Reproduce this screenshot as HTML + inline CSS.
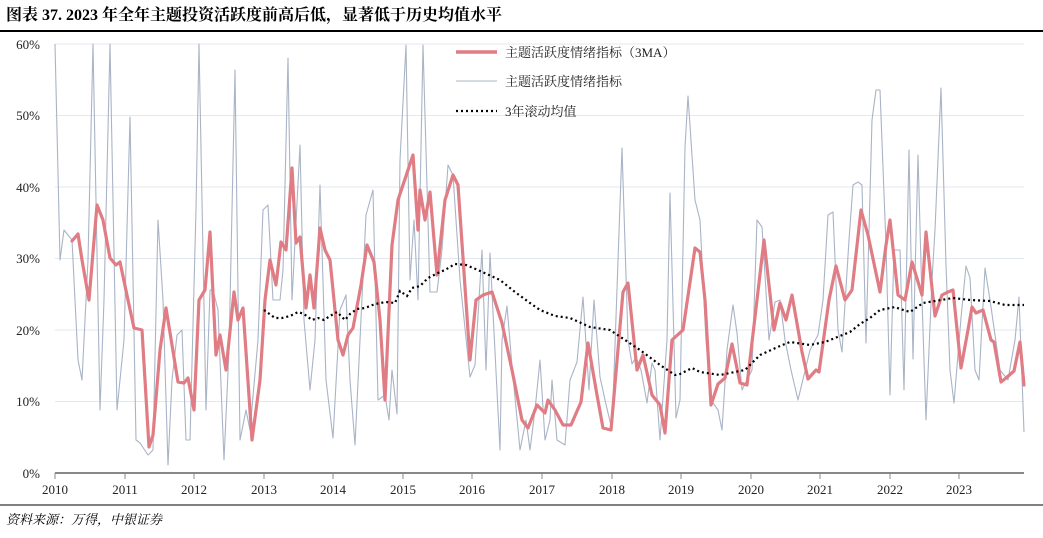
<!DOCTYPE html>
<html><head><meta charset="utf-8"><style>
body{margin:0;width:1043px;height:533px;background:#fff;overflow:hidden;font-family:"Liberation Serif","Noto Serif CJK SC",serif;}
</style></head><body>
<svg width="1043" height="533" viewBox="0 0 1043 533" xmlns="http://www.w3.org/2000/svg">
<text x="6" y="20" font-size="16" font-weight="bold" font-family="Liberation Serif,Noto Serif CJK SC,serif">图表 37. 2023 年全年主题投资活跃度前高后低，显著低于历史均值水平</text>
<line x1="0" y1="31" x2="1043" y2="31" stroke="#000" stroke-width="2"/>
<g stroke="#e3e7ef" stroke-width="1">
<line x1="55" y1="44" x2="1024" y2="44"/><line x1="55" y1="115.5" x2="1024" y2="115.5"/><line x1="55" y1="187" x2="1024" y2="187"/><line x1="55" y1="258.5" x2="1024" y2="258.5"/><line x1="55" y1="330" x2="1024" y2="330"/><line x1="55" y1="401.5" x2="1024" y2="401.5"/>
</g>
<g font-size="13" text-anchor="end" fill="#222">
<text x="40" y="49">60%</text><text x="40" y="120">50%</text><text x="40" y="192">40%</text><text x="40" y="263">30%</text><text x="40" y="335">20%</text><text x="40" y="406">10%</text><text x="40" y="478">0%</text>
</g>
<polyline fill="none" stroke="#a9b4c6" stroke-width="1.1" stroke-linejoin="round" points="55,44 60,260 64,230 68,235 72,240 78,360 82,380 88,260 93,44 100,410 104,300 110,44 117,410 124,340 130,117 136,440 140,443 148,455 153,450 158,220 163,300 168,465 172,380 177,335 182,330 186,440 190,440 196,210 199,44 206,410 210,290 213,290 218,310 224,460 229,350 235,70 240,440 246,410 250,430 258,340 263,210 268,205 273,300 280,300 283,270 288,58 292,300 300,145 304,320 310,390 315,340 320,185 326,380 333,438 340,310 346,295 350,380 355,445 362,298 366,215 373,190 378,400 385,395 389,420 392,370 397,414 400,160 406,45 410,280 414,220 418,300 423,45 430,292 437,292 442,250 448,165 453,175 460,280 470,377 475,365 482,250 486,370 490,253 500,450 502,340 507,306 512,366 520,450 526,420 530,450 535,410 540,360 545,440 550,420 552,380 557,440 565,445 570,380 577,362 583,297 589,390 594,300 600,377 605,400 612,430 622,148 628,340 632,364 636,357 641,370 647,403 652,363 655,370 660,440 667,340 670,193 676,418 680,400 685,147 688,96 695,200 700,220 706,340 711,400 718,410 722,430 727,350 733,305 737,333 742,390 748,378 752,370 757,220 762,227 769,340 775,302 780,300 785,340 791,370 798,400 804,375 810,350 818,335 823,300 828,215 833,212 838,330 842,352 849,240 853,185 858,182 862,185 866,343 872,120 876,90 880,90 886,245 890,395 894,250 900,250 904,390 909,150 913,359 918,155 922,300 926,420 932,280 935,230 941,88 946,265 950,370 954,403 961,318 966,266 970,278 975,370 979,380 985,268 990,300 1000,370 1008,380 1015,340 1019,297 1024,432"/>
<polyline fill="none" stroke="#e07c84" stroke-width="3.2" stroke-linejoin="round" stroke-linecap="round" points="72,241 78,234 82,260 89,300 97,205 103,220 110,258 116,265 120,262 128,300 134,328 142,330 149,447 153,435 160,350 166,308 172,345 178,382 184,383 188,378 194,410 199,300 205,290 210,232 216,355 220,335 226,370 234,292 238,320 243,308 252,440 260,380 265,300 270,260 276,285 281,242 286,250 292,168 296,243 300,237 306,308 310,275 314,308 320,228 325,250 330,260 338,340 343,355 348,335 353,328 361,285 367,245 374,262 380,320 385,400 392,245 398,200 413,155 418,230 420,190 425,220 430,192 437,275 445,200 453,175 458,185 470,360 476,300 483,295 492,292 502,323 512,370 522,420 528,428 537,405 545,413 548,400 555,410 563,425 571,425 581,402 588,343 597,395 603,428 611,430 623,292 628,283 637,370 643,355 652,395 660,405 665,433 672,340 683,330 695,248 700,252 705,300 711,405 718,384 725,378 732,344 740,383 747,385 757,300 764,240 774,330 780,303 786,320 792,295 802,352 808,379 816,370 819,372 829,300 836,266 845,300 852,290 861,210 868,235 880,292 886,245 890,220 898,295 905,300 912,262 922,295 926,232 935,316 942,295 948,292 953,290 961,368 968,330 972,307 976,313 983,310 991,340 994,342 1001,382 1006,378 1014,371 1020,342 1024,385"/>
<polyline fill="none" stroke="#000" stroke-width="2.2" stroke-dasharray="2,3" points="264,310 275,318 282,318 290,316 298,312 304,314 312,320 318,318 324,320 330,316 337,312 345,320 350,314 357,309 365,308 375,304 386,302 395,303 400,291 407,296 412,288 420,286 428,278 440,272 445,270 455,264 466,265 478,270 500,280 515,292 530,303 540,310 555,316 570,318 590,327 610,330 625,340 640,350 660,365 675,375 680,374 692,368 700,372 720,375 745,370 760,355 780,346 790,342 810,345 825,342 840,336 850,332 860,324 870,318 880,310 895,307 900,309 910,312 923,303 935,301 953,298 970,300 990,301 1005,305 1024,305"/>
<line x1="55" y1="473" x2="1024" y2="473" stroke="#888" stroke-width="2"/>
<g stroke="#888" stroke-width="1">
<line x1="55" y1="473" x2="55" y2="479"/><line x1="125" y1="473" x2="125" y2="479"/><line x1="194" y1="473" x2="194" y2="479"/><line x1="264" y1="473" x2="264" y2="479"/><line x1="333" y1="473" x2="333" y2="479"/><line x1="403" y1="473" x2="403" y2="479"/><line x1="472" y1="473" x2="472" y2="479"/><line x1="542" y1="473" x2="542" y2="479"/><line x1="612" y1="473" x2="612" y2="479"/><line x1="681" y1="473" x2="681" y2="479"/><line x1="751" y1="473" x2="751" y2="479"/><line x1="820" y1="473" x2="820" y2="479"/><line x1="890" y1="473" x2="890" y2="479"/><line x1="959" y1="473" x2="959" y2="479"/>
</g>
<g font-size="13" text-anchor="middle" fill="#222">
<text x="55" y="494">2010</text><text x="125" y="494">2011</text><text x="194" y="494">2012</text><text x="264" y="494">2013</text><text x="333" y="494">2014</text><text x="403" y="494">2015</text><text x="472" y="494">2016</text><text x="542" y="494">2017</text><text x="612" y="494">2018</text><text x="681" y="494">2019</text><text x="751" y="494">2020</text><text x="820" y="494">2021</text><text x="890" y="494">2022</text><text x="959" y="494">2023</text>
</g>
<line x1="456" y1="52" x2="497" y2="52" stroke="#e07c84" stroke-width="3.5"/>
<line x1="456" y1="81" x2="497" y2="81" stroke="#a9b4c6" stroke-width="1.1"/>
<line x1="456" y1="111" x2="497" y2="111" stroke="#000" stroke-width="2.2" stroke-dasharray="2,3"/>
<g font-size="13" fill="#222">
<text x="505" y="57">主题活跃度情绪指标（3MA）</text><text x="505" y="86">主题活跃度情绪指标</text><text x="505" y="116">3年滚动均值</text>
</g>
<line x1="0" y1="505" x2="1043" y2="505" stroke="#000" stroke-width="1"/>
<text x="6" y="524" font-size="13" font-style="italic">资料来源：万得，中银证券</text>
</svg>
</body></html>
